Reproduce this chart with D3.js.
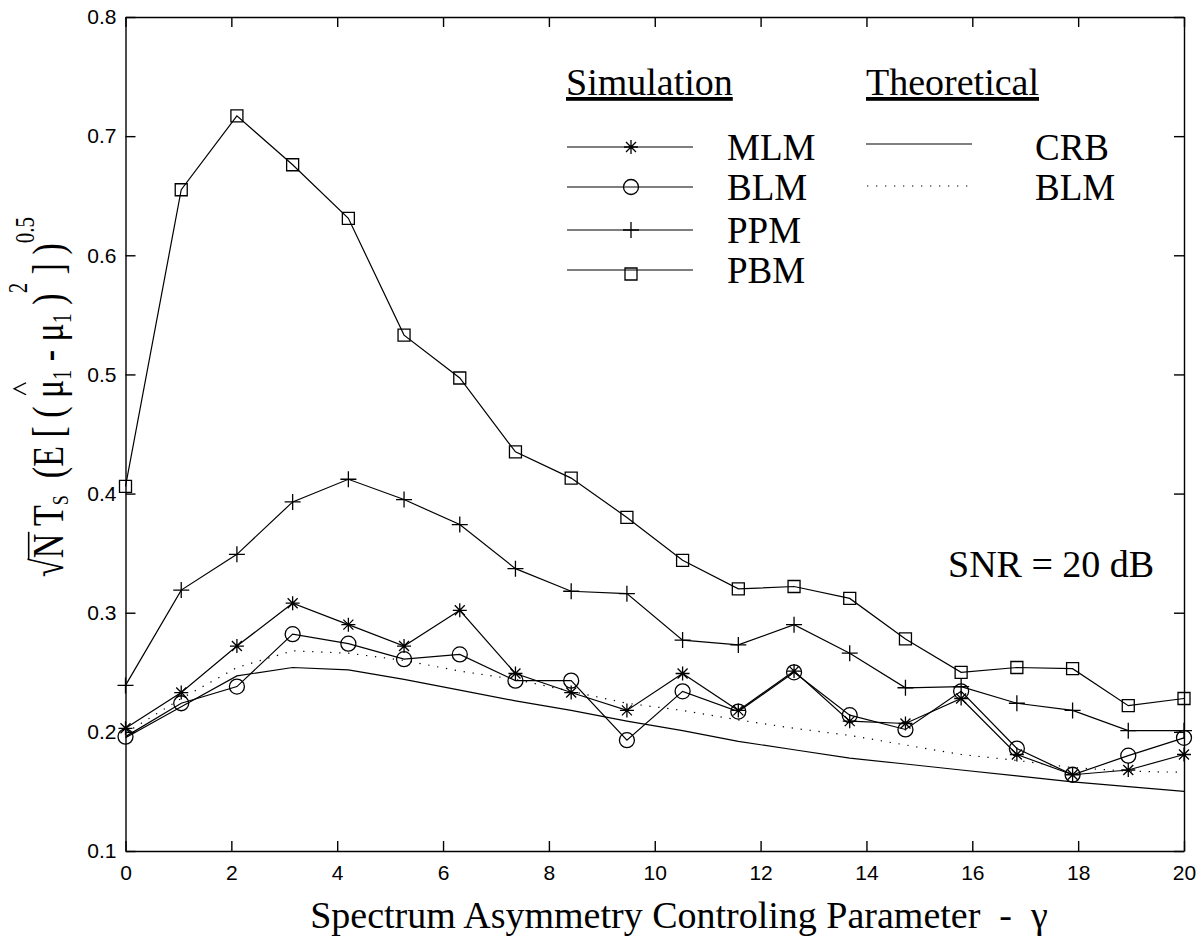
<!DOCTYPE html>
<meta charset="utf-8">
<style>
  body { margin: 0; background: #fff; }
  .axis path, .axis line { stroke: #000; stroke-width: 1.4px; }
  .axis text { font-family: "Liberation Sans", Arial, sans-serif; font-size: 21px; fill: #000; }
  .serif { font-family: "Liberation Serif", "Times New Roman", serif; fill: #000; }
  .line { fill: none; stroke: #000; stroke-width: 1.2px; }
  .mark { fill: none; stroke: #000; stroke-width: 1.3px; }
</style>
<svg width="1202" height="950"></svg>
<script src="https://d3js.org/d3.v7.min.js"></script>
<script>

// gamma values (x) and the curves
var gammaVals = [0, 1.053, 2.105, 3.158, 4.211, 5.263, 6.316, 7.368, 8.421, 9.474,
                 10.526, 11.579, 12.632, 13.684, 14.737, 15.789, 16.842, 17.895, 18.947, 20];

var mlmSim = [0.203, 0.233, 0.272, 0.308, 0.290, 0.272, 0.302, 0.249, 0.233, 0.218,
              0.249, 0.218, 0.251, 0.209, 0.207, 0.228, 0.181, 0.164, 0.168, 0.181];
var blmSim = [0.196, 0.224, 0.238, 0.282, 0.274, 0.261, 0.265, 0.243, 0.243, 0.193,
              0.234, 0.217, 0.250, 0.214, 0.202, 0.234, 0.186, 0.164, 0.180, 0.195];
var ppmSim = [0.239, 0.319, 0.349, 0.393, 0.412, 0.395, 0.374, 0.337, 0.318, 0.316,
              0.277, 0.273, 0.290, 0.266, 0.237, 0.238, 0.224, 0.218, 0.201, 0.201];
var pbmSim = [0.406, 0.655, 0.717, 0.676, 0.631, 0.533, 0.497, 0.435, 0.413, 0.380,
              0.344, 0.320, 0.322, 0.312, 0.278, 0.250, 0.254, 0.253, 0.222, 0.228];
var crbTheory = [0.195, 0.221, 0.247, 0.254, 0.252, 0.244, 0.235, 0.226, 0.218, 0.209,
                 0.201, 0.192, 0.185, 0.178, 0.173, 0.168, 0.163, 0.158, 0.154, 0.150];
var blmTheory = [0.199, 0.228, 0.254, 0.268, 0.266, 0.260, 0.251, 0.244, 0.234, 0.224,
                 0.218, 0.210, 0.203, 0.197, 0.189, 0.181, 0.176, 0.170, 0.167, 0.166];

var xTicks = [0, 2, 4, 6, 8, 10, 12, 14, 16, 18, 20];
var yTicks = [0.1, 0.2, 0.3, 0.4, 0.5, 0.6, 0.7, 0.8];

var svg = d3.select("svg"),
    margin = {top: 17, right: 18, bottom: 99, left: 125.5},
    W = +svg.attr("width"), H = +svg.attr("height");

var x = d3.scaleLinear().domain([0, 20]).range([margin.left, W - margin.right]),
    y = d3.scaleLinear().domain([0.1, 0.8]).range([H - margin.bottom, margin.top]);

// axes: ticks point inward on all four sides
svg.append("g").attr("class", "axis")
    .attr("transform", "translate(0," + y(0.1) + ")")
    .call(d3.axisBottom(x).tickValues(xTicks).tickSizeInner(-10).tickSizeOuter(0).tickPadding(14)
      .tickFormat(d3.format("d")));
svg.append("g").attr("class", "axis")
    .attr("transform", "translate(0," + y(0.8) + ")")
    .call(d3.axisTop(x).tickValues(xTicks).tickSizeInner(-10).tickSizeOuter(0).tickFormat(""));
svg.append("g").attr("class", "axis")
    .attr("transform", "translate(" + x(0) + ",0)")
    .call(d3.axisLeft(y).tickValues(yTicks).tickSizeInner(-10).tickSizeOuter(0).tickPadding(9)
      .tickFormat(d3.format(".1f")));
svg.append("g").attr("class", "axis")
    .attr("transform", "translate(" + x(20) + ",0)")
    .call(d3.axisRight(y).tickValues(yTicks).tickSizeInner(-10).tickSizeOuter(0).tickFormat(""));

function pts(vals) {
  return vals.map(function(v, i) { return [gammaVals[i], v]; });
}
var line = d3.line()
    .x(function(d) { return x(d[0]); })
    .y(function(d) { return y(d[1]); });

// marker shapes
function markPath(type, cx, cy) {
  if (type === "plus") {
    return "M" + (cx - 8) + "," + cy + "h16M" + cx + "," + (cy - 8) + "v16";
  }
  if (type === "star") {
    var s = 7, d = 5;
    return "M" + (cx - s) + "," + cy + "h" + (2 * s) +
           "M" + cx + "," + (cy - s) + "v" + (2 * s) +
           "M" + (cx - d) + "," + (cy - d) + "l" + (2 * d) + "," + (2 * d) +
           "M" + (cx - d) + "," + (cy + d) + "l" + (2 * d) + "," + (-2 * d);
  }
  if (type === "square") {
    return "M" + (cx - 6) + "," + (cy - 6) + "h12v12h-12z";
  }
  return "M" + (cx - 7.5) + "," + cy + "a7.5,7.5 0 1,0 15,0a7.5,7.5 0 1,0 -15,0";
}

// theoretical curves
svg.append("path").datum(pts(crbTheory)).attr("class", "line").attr("d", line);
svg.append("path").datum(pts(blmTheory)).attr("class", "line")
    .attr("stroke-dasharray", "1.3 7.7").attr("d", line);

// simulation curves
var sims = [
  {vals: pbmSim, mark: "square"},
  {vals: ppmSim, mark: "plus"},
  {vals: blmSim, mark: "circle"},
  {vals: mlmSim, mark: "star"}
];
sims.forEach(function(s) {
  svg.append("path").datum(pts(s.vals)).attr("class", "line").attr("d", line);
  svg.append("g").selectAll("path")
    .data(pts(s.vals))
    .enter().append("path")
    .attr("class", "mark")
    .attr("d", function(d) { return markPath(s.mark, x(d[0]), y(d[1])); });
});

// legend
var leg = svg.append("g");
leg.append("text").attr("class", "serif").attr("x", 566).attr("y", 95)
    .style("font-size", "38px").attr("text-decoration", "underline").text("Simulation");
leg.append("text").attr("class", "serif").attr("x", 866).attr("y", 95)
    .style("font-size", "38px").attr("text-decoration", "underline").text("Theoretical");

var simLeg = [
  {name: "MLM", mark: "star", y: 147},
  {name: "BLM", mark: "circle", y: 187},
  {name: "PPM", mark: "plus", y: 230},
  {name: "PBM", mark: "square", y: 270}
];
simLeg.forEach(function(d) {
  leg.append("line").attr("class", "line").attr("x1", 567).attr("x2", 693)
      .attr("y1", d.y).attr("y2", d.y);
  leg.append("path").attr("class", "mark").attr("d", markPath(d.mark, 631, d.y + (d.mark === "square" ? 4 : 0)));
  leg.append("text").attr("class", "serif").attr("x", 727).attr("y", d.y + 13)
      .style("font-size", "37px").text(d.name);
});
leg.append("line").attr("class", "line").attr("x1", 866).attr("x2", 972).attr("y1", 144).attr("y2", 144);
leg.append("line").attr("class", "line").attr("x1", 867).attr("x2", 972).attr("y1", 186).attr("y2", 186)
    .attr("stroke-dasharray", "1.3 7.7");
leg.append("text").attr("class", "serif").attr("x", 1035).attr("y", 160).style("font-size", "37px").text("CRB");
leg.append("text").attr("class", "serif").attr("x", 1035).attr("y", 200).style("font-size", "37px").text("BLM");

svg.append("text").attr("class", "serif").attr("x", 948).attr("y", 577)
    .style("font-size", "38px").text("SNR = 20 dB");

// x title
svg.append("text").attr("class", "serif").attr("x", 679).attr("y", 928)
    .attr("text-anchor", "middle").style("font-size", "38px").style("white-space", "pre")
    .text("Spectrum Asymmetry Controling Parameter  -  \u03b3");

// y title, built from pieces
var yl = svg.append("g").attr("transform", "translate(63,397) rotate(-90) scale(1,1.32)");
var yt = yl.append("text").attr("class", "serif").attr("text-anchor", "middle")
    .style("font-size", "34px").style("white-space", "pre");
var pieces = [
  {t: "\u221aN", dy: 0},
  {t: " T", dy: 0},
  {t: "S", dy: 4, size: 18},
  {t: "  (E [ ( ", dy: -4},
  {t: "\u03bc", dy: 0},
  {t: "1", dy: 6, size: 20},
  {t: " - \u03bc", dy: -6},
  {t: "1", dy: 6, size: 20},
  {t: " )", dy: -6},
  {t: "2", dy: -27, size: 21},
  {t: " ] )", dy: 27},
  {t: "0.5", dy: -22, size: 21}
];
pieces.forEach(function(p) {
  yt.append("tspan").attr("dy", p.dy).style("font-size", p.size ? p.size + "px" : null).text(p.t);
});
// overline of the root and hat over the estimate
var full = pieces.map(function(p) { return p.t; }).join("");
var node = yt.node();
var rootBox = node.getExtentOfChar(0), nBox = node.getExtentOfChar(1);
yl.append("line").attr("class", "line")
    .attr("x1", rootBox.x + rootBox.width - 1).attr("x2", nBox.x + nBox.width + 2)
    .attr("y1", -26).attr("y2", -26);
var muIdx = full.indexOf("\u03bc");
var muBox = node.getExtentOfChar(muIdx);
var mc = muBox.x + muBox.width / 2;
yl.append("path").attr("class", "mark")
    .attr("d", "M" + (mc - 6) + ",-28L" + mc + ",-37L" + (mc + 6) + ",-28");

</script>
